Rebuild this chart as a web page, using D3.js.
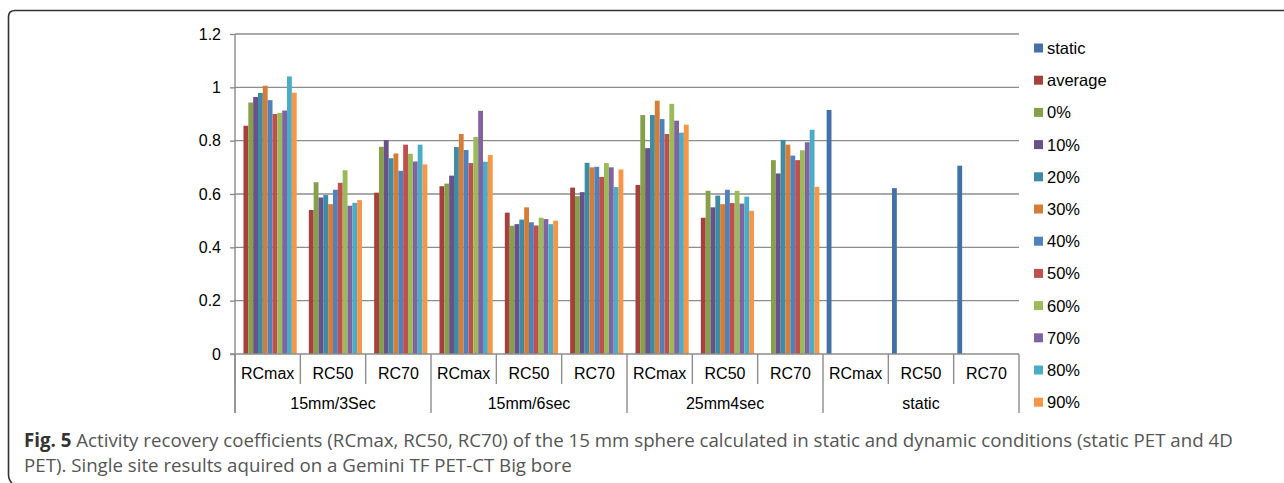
<!DOCTYPE html>
<html>
<head>
<meta charset="utf-8">
<script src="https://cdn.jsdelivr.net/npm/d3@7"></script>
<style>
  body { margin: 0; background: #fff; }
  svg { display: block; }
</style>
</head>
<body>
<svg width="1284" height="483"></svg>
<script>
// categories on the two-level x axis
const groups = ["15mm/3Sec", "15mm/6sec", "25mm4sec", "static"];
const measures = ["RCmax", "RC50", "RC70"];
const seriesNames = ["static", "average", "0%", "10%", "20%", "30%", "40%", "50%", "60%", "70%", "80%", "90%"];
const yTicks = [0, 0.2, 0.4, 0.6, 0.8, 1, 1.2];

// one value per category (groups x measures), null = no bar
const vStatic  = [null, null, null, null, null, null, null, null, null, 0.915, 0.622, 0.706];
const vAverage = [0.856, 0.540, 0.605, 0.629, 0.530, 0.624, 0.634, 0.511, null, null, null, null];
const v0  = [0.943, 0.644, 0.777, 0.639, 0.481, 0.592, 0.896, 0.612, 0.727, null, null, null];
const v10 = [0.964, 0.587, 0.802, 0.669, 0.487, 0.607, 0.772, 0.550, 0.677, null, null, null];
const v20 = [0.979, 0.596, 0.734, 0.776, 0.504, 0.717, 0.896, 0.594, 0.803, null, null, null];
const v30 = [1.006, 0.562, 0.752, 0.825, 0.550, 0.700, 0.950, 0.562, 0.785, null, null, null];
const v40 = [0.952, 0.616, 0.687, 0.765, 0.494, 0.702, 0.881, 0.616, 0.744, null, null, null];
const v50 = [0.900, 0.642, 0.785, 0.716, 0.482, 0.664, 0.825, 0.566, 0.727, null, null, null];
const v60 = [0.904, 0.689, 0.751, 0.814, 0.511, 0.716, 0.938, 0.612, 0.764, null, null, null];
const v70 = [0.913, 0.556, 0.722, 0.912, 0.506, 0.700, 0.875, 0.564, 0.794, null, null, null];
const v80 = [1.041, 0.567, 0.785, 0.721, 0.487, 0.626, 0.830, 0.590, 0.841, null, null, null];
const v90 = [0.980, 0.577, 0.711, 0.746, 0.500, 0.692, 0.860, 0.537, 0.627, null, null, null];
const allValues = [vStatic, vAverage, v0, v10, v20, v30, v40, v50, v60, v70, v80, v90];

const colors = ["#4470a8", "#a5403d", "#86a04a", "#6a5189", "#3b8ca4", "#d57d37",
                "#4f81bd", "#c0504d", "#9bbb59", "#8064a2", "#4bacc6", "#f79646"];

const svg = d3.select("svg");
const font = "'Liberation Sans', Arial, sans-serif";
const fs = 16;

// frame round the figure (only top and left show)
svg.append("path")
  .attr("d", "M1284,10.5 L15,10.5 Q8.5,10.5 8.5,17 L8.5,474 Q8.5,480 12,483")
  .attr("fill", "none").attr("stroke", "#333").attr("stroke-width", 1.6);

const plot = {left: 235, right: 1019, top: 34, bottom: 354};

const cats = [];
groups.forEach(g => measures.forEach(m => cats.push(g + "|" + m)));

const x = d3.scaleBand().domain(cats).range([plot.left, plot.right]);
const xs = d3.scaleBand().domain(seriesNames).range([3.65, x.bandwidth() - 3.65]);
const y = d3.scaleLinear().domain([0, 1.2]).range([plot.bottom, plot.top]);

// gridlines
svg.append("g").selectAll("line").data(yTicks.filter(t => t > 0)).join("line")
  .attr("x1", plot.left).attr("x2", plot.right)
  .attr("y1", d => y(d)).attr("y2", d => y(d))
  .attr("stroke", "#8c8c8c").attr("stroke-width", 1.4);

// y axis
const yAxis = svg.append("g")
  .attr("transform", "translate(" + plot.left + ",0)")
  .call(d3.axisLeft(y).tickValues(yTicks).tickSize(5).tickPadding(9).tickFormat(d3.format("")));
yAxis.select(".domain").remove();
yAxis.selectAll(".tick line").attr("stroke", "#8c8c8c").attr("stroke-width", 1.4);
yAxis.selectAll(".tick text").attr("font-family", font).attr("font-size", fs).attr("fill", "#000");

// bars
const barData = [];
allValues.forEach((vals, si) => vals.forEach((v, ci) => {
  if (v !== null) barData.push({s: seriesNames[si], c: cats[ci], v: v, col: colors[si]});
}));
svg.append("g").selectAll("rect").data(barData).join("rect")
  .attr("x", d => x(d.c) + xs(d.s))
  .attr("y", d => y(d.v))
  .attr("width", xs.bandwidth())
  .attr("height", d => y(0) - y(d.v))
  .attr("fill", d => d.col);

// axis lines
const axisCol = "#8c8c8c";
svg.append("line").attr("x1", plot.left).attr("x2", plot.left)
  .attr("y1", plot.top).attr("y2", 413).attr("stroke", axisCol).attr("stroke-width", 1.4);
svg.append("line").attr("x1", plot.left - 5).attr("x2", plot.right)
  .attr("y1", plot.bottom).attr("y2", plot.bottom).attr("stroke", axisCol).attr("stroke-width", 1.6);

// separators between categories and groups
const sep = svg.append("g");
d3.range(cats.length + 1).forEach(i => {
  const xx = plot.left + i * x.step();
  sep.append("line").attr("x1", xx).attr("x2", xx)
    .attr("y1", plot.bottom).attr("y2", i % 3 === 0 ? 413 : 384)
    .attr("stroke", axisCol).attr("stroke-width", 1.4);
});

// category labels
svg.append("g").selectAll("text").data(cats).join("text")
  .attr("x", d => x(d) + x.bandwidth() / 2)
  .attr("y", 379)
  .attr("text-anchor", "middle")
  .attr("font-family", font).attr("font-size", fs)
  .text(d => d.split("|")[1]);

svg.append("g").selectAll("text").data(groups).join("text")
  .attr("x", (d, i) => plot.left + (i * 3 + 1.5) * x.step())
  .attr("y", 409)
  .attr("text-anchor", "middle")
  .attr("font-family", font).attr("font-size", fs)
  .text(d => d);

// legend
const leg = svg.append("g").selectAll("g").data(seriesNames).join("g")
  .attr("transform", (d, i) => "translate(1034," + (48 + i * 32.2) + ")");
leg.append("rect").attr("x", 0).attr("y", -4.5).attr("width", 9).attr("height", 9)
  .attr("fill", (d, i) => colors[i]);
leg.append("text").attr("x", 13).attr("y", 6)
  .attr("font-family", font).attr("font-size", 16.5)
  .text(d => d);

// caption
const cap = svg.append("g").attr("font-family", "'Open Sans', sans-serif").attr("font-size", 18.7);
const line1 = cap.append("text").attr("x", 24).attr("y", 447).attr("fill", "#555");
line1.append("tspan").attr("font-weight", "bold").attr("fill", "#333").text("Fig. 5");
line1.append("tspan").text(" Activity recovery coefficients (RCmax, RC50, RC70) of the 15 mm sphere calculated in static and dynamic conditions (static PET and 4D");
cap.append("text").attr("x", 24).attr("y", 472).attr("fill", "#555")
  .text("PET). Single site results aquired on a Gemini TF PET-CT Big bore");
</script>
</body>
</html>
